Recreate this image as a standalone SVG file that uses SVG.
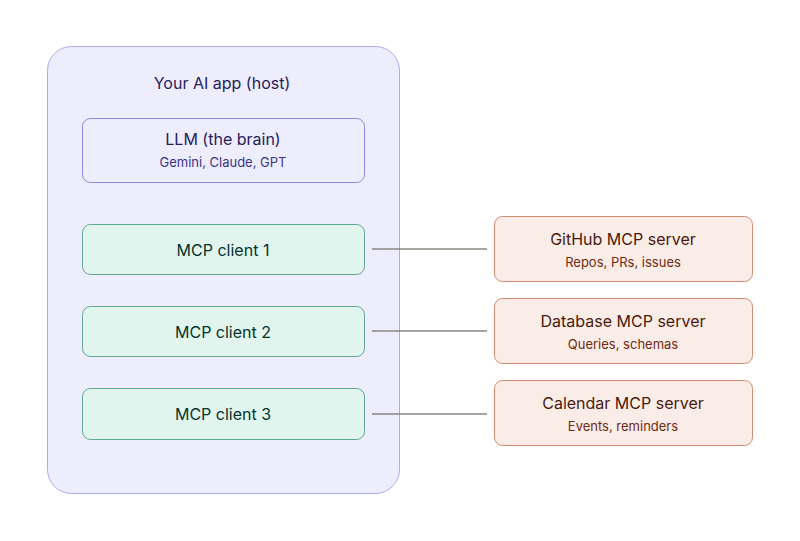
<svg xmlns="http://www.w3.org/2000/svg" width="800" height="541" viewBox="0 0 800 541">
<style>
text{font-family:Inter,"Noto Sans",sans-serif;text-anchor:middle;dominant-baseline:central}
.t{font-size:16px;font-weight:400}
.s{font-size:13px;font-weight:400}
.host{fill:#EEEDFE;stroke:#AFA9EC;stroke-width:1}
.llm{fill:#EEEDFE;stroke:#8F88DA;stroke-width:1}
.cli{fill:#E1F5EE;stroke:#5FA890;stroke-width:1}
.srv{fill:#FAECE7;stroke:#D38C73;stroke-width:1}
.conn line{stroke:#888780;stroke-width:1.5}
</style>
<rect width="800" height="541" fill="#fff"/>
<g id="host">
<rect class="host" x="47.5" y="46.5" width="352" height="447" rx="24"/>
<text class="t" x="222" y="83" fill="#26215C">Your AI app (host)</text>
</g>
<g id="llm">
<rect class="llm" x="82.5" y="118.5" width="282" height="64" rx="8"/>
<text class="t" x="223" y="139" fill="#26215C">LLM (the brain)</text>
<text class="s" x="223" y="162" fill="#3C3489">Gemini, Claude, GPT</text>
</g>
<g id="client1">
<rect class="cli" x="82.5" y="224.5" width="282" height="50" rx="8"/>
<text class="t" x="223" y="249.5" fill="#04342C">MCP client 1</text>
</g>
<g id="client2">
<rect class="cli" x="82.5" y="306.5" width="282" height="50" rx="8"/>
<text class="t" x="223" y="331.5" fill="#04342C">MCP client 2</text>
</g>
<g id="client3">
<rect class="cli" x="82.5" y="388.5" width="282" height="51" rx="8"/>
<text class="t" x="223" y="414" fill="#04342C">MCP client 3</text>
</g>
<g class="conn" id="connectors">
<line x1="372" y1="249" x2="487" y2="249"/>
<line x1="372" y1="331" x2="487" y2="331"/>
<line x1="372" y1="414" x2="487" y2="414"/>
</g>
<g id="github">
<rect class="srv" x="494.5" y="216.5" width="258" height="65" rx="8"/>
<text class="t" x="623" y="239" fill="#4A1B0C">GitHub MCP server</text>
<text class="s" x="623" y="262" fill="#712B13">Repos, PRs, issues</text>
</g>
<g id="database">
<rect class="srv" x="494.5" y="298.5" width="258" height="65" rx="8"/>
<text class="t" x="623" y="321" fill="#4A1B0C">Database MCP server</text>
<text class="s" x="623" y="344" fill="#712B13">Queries, schemas</text>
</g>
<g id="calendar">
<rect class="srv" x="494.5" y="380.5" width="258" height="65" rx="8"/>
<text class="t" x="623" y="403" fill="#4A1B0C">Calendar MCP server</text>
<text class="s" x="623" y="426" fill="#712B13">Events, reminders</text>
</g>
</svg>
